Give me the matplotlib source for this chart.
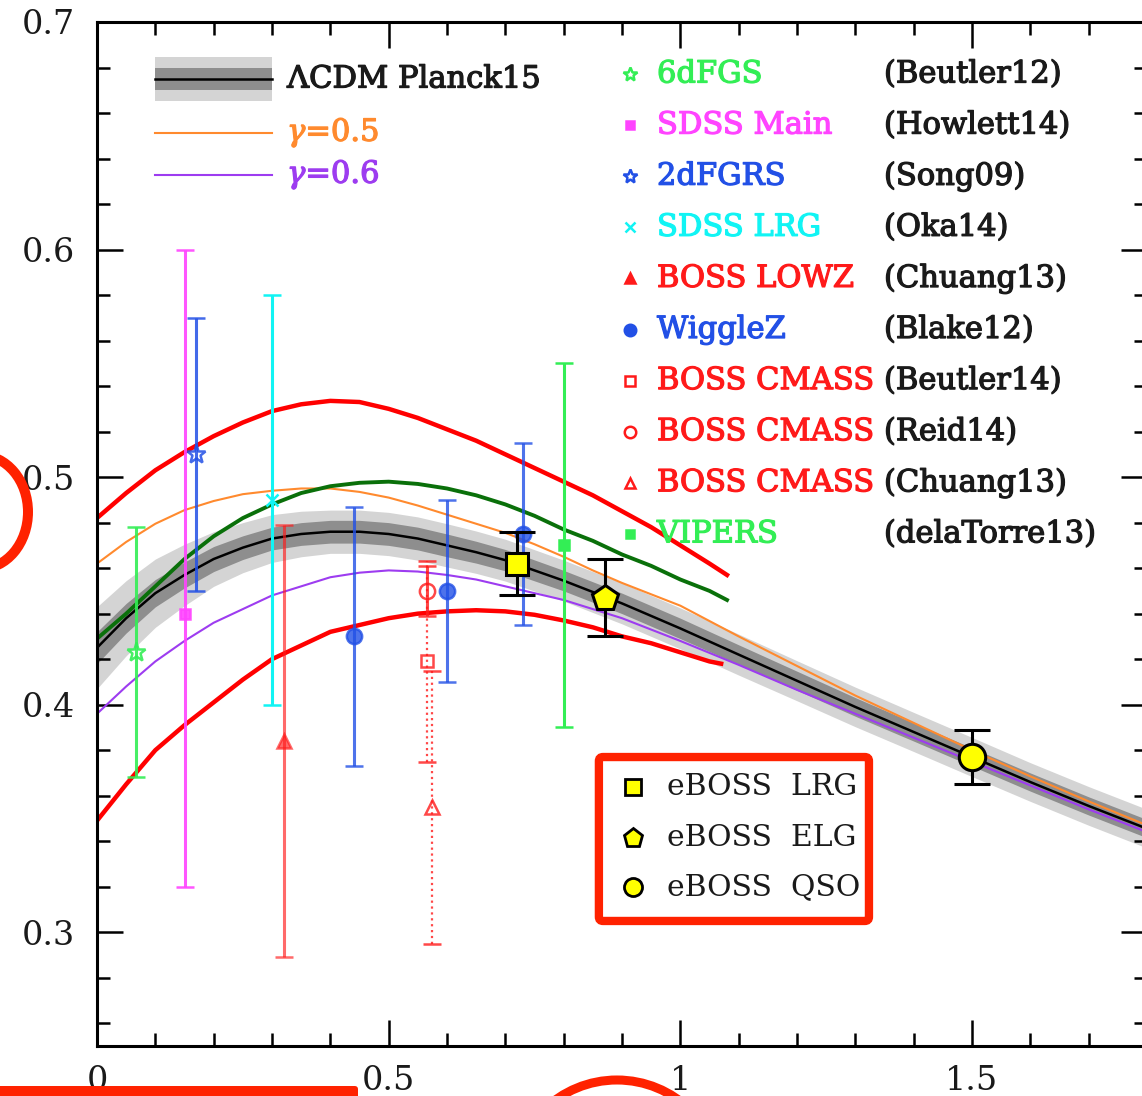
import numpy as np
import matplotlib.pyplot as plt
import matplotlib.patheffects as pe
from matplotlib import patches
from matplotlib.ticker import FixedLocator, FixedFormatter, MultipleLocator

plt.rcParams['font.family'] = ['DejaVu Serif']
plt.rcParams['mathtext.fontset'] = 'dejavuserif'

## model curves, f*sigma8 against redshift

z_model = [0.0, 0.05, 0.1, 0.15, 0.2, 0.25, 0.3, 0.35, 0.4, 0.45, 0.5,
           0.55, 0.6, 0.65, 0.7, 0.75, 0.8, 0.85, 0.9, 0.95, 1.0,
           1.1, 1.2, 1.3, 1.4, 1.5, 1.6, 1.7, 1.8]
fs8_lcdm = [0.425, 0.438, 0.449, 0.457, 0.464, 0.469, 0.473, 0.475, 0.476, 0.476, 0.475,
            0.473, 0.470, 0.467, 0.4635, 0.459, 0.4545, 0.4495, 0.4445, 0.439, 0.4335,
            0.422, 0.4105, 0.399, 0.388, 0.377, 0.366, 0.3555, 0.3455]
# 1 and 2 sigma half widths of the Planck15 band
sig1_lcdm = [0.007, 0.0065, 0.006, 0.0057, 0.0055, 0.0052, 0.005, 0.005, 0.005, 0.005, 0.005,
             0.005, 0.005, 0.0048, 0.0047, 0.0046, 0.0045, 0.0045, 0.0045, 0.0045, 0.0045,
             0.0043, 0.0042, 0.0041, 0.004, 0.004, 0.004, 0.004, 0.004]
sig2_lcdm = [0.018, 0.0165, 0.015, 0.0135, 0.012, 0.011, 0.0105, 0.010, 0.0095, 0.0095, 0.0095,
             0.0095, 0.0095, 0.0093, 0.0092, 0.0091, 0.009, 0.009, 0.009, 0.009, 0.009,
             0.009, 0.0088, 0.0087, 0.0086, 0.0086, 0.0085, 0.0085, 0.0085]
fs8_gamma05 = [0.462, 0.4715, 0.4795, 0.4855, 0.4895, 0.4925, 0.494, 0.495, 0.495, 0.4935, 0.491,
               0.4875, 0.4835, 0.4795, 0.4755, 0.4705, 0.465, 0.459, 0.4535, 0.4485, 0.4435,
               0.430, 0.417, 0.404, 0.392, 0.380, 0.3685, 0.3575, 0.347]
fs8_gamma06 = [0.396, 0.408, 0.419, 0.428, 0.436, 0.442, 0.448, 0.452, 0.456, 0.458, 0.459,
               0.4585, 0.457, 0.455, 0.452, 0.449, 0.446, 0.442, 0.438, 0.433, 0.428,
               0.4175, 0.4065, 0.396, 0.3855, 0.375, 0.3645, 0.354, 0.344]

# thick curves that stop near z=1
z_upper = [0.0, 0.05, 0.1, 0.15, 0.2, 0.25, 0.3, 0.35, 0.4, 0.45, 0.5, 0.55,
           0.6, 0.65, 0.7, 0.75, 0.8, 0.85, 0.9, 0.95, 1.0, 1.05, 1.08]
fs8_red_upper = [0.482, 0.493, 0.503, 0.511, 0.518, 0.524, 0.529, 0.532, 0.5335, 0.533, 0.530, 0.526,
                 0.521, 0.516, 0.510, 0.504, 0.498, 0.492, 0.485, 0.478, 0.470, 0.462, 0.457]
fs8_green = [0.429, 0.440, 0.452, 0.464, 0.474, 0.482, 0.488, 0.493, 0.496, 0.4975, 0.498, 0.497,
             0.495, 0.492, 0.488, 0.483, 0.477, 0.472, 0.466, 0.461, 0.455, 0.450, 0.446]
z_lower = [0.0, 0.05, 0.1, 0.15, 0.2, 0.25, 0.3, 0.35, 0.4, 0.45, 0.5, 0.55,
           0.6, 0.65, 0.7, 0.75, 0.8, 0.85, 0.9, 0.95, 1.0, 1.05, 1.07]
fs8_red_lower = [0.349, 0.365, 0.380, 0.391, 0.401, 0.411, 0.420, 0.426, 0.432, 0.435, 0.438, 0.440,
                 0.441, 0.4415, 0.441, 0.4395, 0.437, 0.434, 0.430, 0.427, 0.423, 0.419, 0.418]

## measurements

z_6df, fs8_6df, err_6df = [0.067], [0.423], [0.055]
z_main, fs8_main, err_main = [0.15], [0.44], [[0.12], [0.16]]
z_2df, fs8_2df, err_2df = [0.17], [0.51], [0.06]
z_lrg, fs8_lrg, err_lrg = [0.30], [0.49], [0.09]
z_lowz, fs8_lowz, err_lowz = [0.32], [0.384], [0.095]
z_wigglez = [0.44, 0.60, 0.73]
fs8_wigglez = [0.43, 0.45, 0.475]
err_wigglez = [0.057, 0.040, 0.040]
z_cmass_b14, fs8_cmass_b14, err_cmass_b14 = [0.565], [0.419], [0.044]
z_cmass_r14, fs8_cmass_r14, err_cmass_r14 = [0.565], [0.450], [0.011]
z_cmass_c13, fs8_cmass_c13, err_cmass_c13 = [0.575], [0.355], [0.06]
z_vipers, fs8_vipers, err_vipers = [0.80], [0.47], [0.08]

# eBOSS forecasts
z_eboss_lrg, fs8_eboss_lrg, err_eboss_lrg = [0.72], [0.462], [0.014]
z_eboss_elg, fs8_eboss_elg, err_eboss_elg = [0.87], [0.447], [0.017]
z_eboss_qso, fs8_eboss_qso, err_eboss_qso = [1.5], [0.377], [0.012]

survey_names = ['6dFGS', 'SDSS Main', '2dFGRS', 'SDSS LRG', 'BOSS LOWZ',
                'WiggleZ', 'BOSS CMASS', 'BOSS CMASS', 'BOSS CMASS', 'VIPERS']
survey_refs = ['(Beutler12)', '(Howlett14)', '(Song09)', '(Oka14)', '(Chuang13)',
               '(Blake12)', '(Beutler14)', '(Reid14)', '(Chuang13)', '(delaTorre13)']
eboss_names = ['eBOSS  LRG', 'eBOSS  ELG', 'eBOSS  QSO']

GREEN = '#33ee55'
MAGENTA = '#ff44ff'
BLUE = '#2250e6'
CYAN = '#11f4f4'
RED = '#ff1a1a'

# marker style for each survey: marker, size, filled, colour, alpha, dotted bars
styles = [('*', 14, False, GREEN, 0.9, False),
          ('s', 7, True, MAGENTA, 0.9, False),
          ('*', 14, False, BLUE, 0.85, False),
          ('x', 9, True, CYAN, 1.0, False),
          ('^', 10, True, RED, 0.65, False),
          ('o', 11, True, BLUE, 0.8, False),
          ('s', 9, False, RED, 0.8, True),
          ('o', 11, False, RED, 0.8, False),
          ('^', 10, False, RED, 0.8, True),
          ('s', 7, True, GREEN, 1.0, False)]
measurements = [(z_6df, fs8_6df, err_6df), (z_main, fs8_main, err_main),
                (z_2df, fs8_2df, err_2df), (z_lrg, fs8_lrg, err_lrg),
                (z_lowz, fs8_lowz, err_lowz), (z_wigglez, fs8_wigglez, err_wigglez),
                (z_cmass_b14, fs8_cmass_b14, err_cmass_b14),
                (z_cmass_r14, fs8_cmass_r14, err_cmass_r14),
                (z_cmass_c13, fs8_cmass_c13, err_cmass_c13),
                (z_vipers, fs8_vipers, err_vipers)]


def heavy(col):
    # thicken thin serif glyphs a little
    return [pe.withStroke(linewidth=0.9, foreground=col)]


W, H = 1142, 1096
fig = plt.figure(figsize=(W / 100, H / 100), dpi=100)
ax = fig.add_axes([97 / W, 50 / H, 1050 / W, 1024 / H])

lcdm = np.array(fs8_lcdm)
s1 = np.array(sig1_lcdm)
s2 = np.array(sig2_lcdm)
ax.fill_between(z_model, lcdm - s2, lcdm + s2, color='#d4d4d4', lw=0, zorder=1)
ax.fill_between(z_model, lcdm - s1, lcdm + s1, color='#8e8e8e', lw=0, zorder=1.1)
ax.plot(z_model, fs8_lcdm, color='black', lw=1.8, zorder=1.5)
ax.plot(z_model, fs8_gamma05, color='#ff8a2e', lw=1.5, zorder=1.6)
ax.plot(z_model, fs8_gamma06, color='#9d3cf0', lw=1.5, zorder=1.6)

ax.plot(z_upper, fs8_red_upper, color='#ff0000', lw=3.2, zorder=2.5)
ax.plot(z_upper, fs8_green, color='#0a700a', lw=2.8, zorder=2.5)
ax.plot(z_lower, fs8_red_lower, color='#ff0000', lw=3.2, zorder=2.5)

for (z, fs8, err), (mk, ms, filled, col, alpha, dotted) in zip(measurements, styles):
    eb = ax.errorbar(z, fs8, yerr=err, fmt=mk, color=col, ms=ms,
                     mfc=col if filled else 'none', mec=col, mew=1.8,
                     elinewidth=1.6 if dotted else 2.2, capsize=6.5, capthick=2,
                     alpha=alpha, zorder=3)
    if dotted:
        eb[2][0].set_linestyle(':')

# eBOSS points
for z, fs8, err, mk, ms in [(z_eboss_lrg, fs8_eboss_lrg, err_eboss_lrg, 's', 16),
                            (z_eboss_elg, fs8_eboss_elg, err_eboss_elg, 'p', 19),
                            (z_eboss_qso, fs8_eboss_qso, err_eboss_qso, 'o', 19)]:
    ax.errorbar(z, fs8, yerr=err, fmt=mk, color='black', ms=ms, mfc='#ffff00',
                mec='black', mew=2.2, elinewidth=2.2, capsize=13, capthick=2.2,
                zorder=6)

ax.set_xlim(0, 1.8)
ax.set_ylim(0.25, 0.7)
ax.xaxis.set_major_locator(FixedLocator([0, 0.5, 1, 1.5]))
ax.xaxis.set_major_formatter(FixedFormatter(['0', '0.5', '1', '1.5']))
ax.xaxis.set_minor_locator(MultipleLocator(0.1))
ax.yaxis.set_major_locator(FixedLocator([0.3, 0.4, 0.5, 0.6, 0.7]))
ax.yaxis.set_major_formatter(FixedFormatter(['0.3', '0.4', '0.5', '0.6', '0.7']))
ax.yaxis.set_minor_locator(MultipleLocator(0.02))
ax.tick_params(which='both', direction='in', top=True, right=True, width=1.8,
               labelsize=24, labelcolor='#1a1a1a')
ax.tick_params(which='major', length=19)
ax.tick_params(which='minor', length=9.5)
ax.tick_params(axis='y', pad=16)
ax.tick_params(axis='x', pad=14)
for sp in ax.spines.values():
    sp.set_linewidth(2.2)

## legends, drawn in axes fraction

# model curves, top left
x0, x1, xt = 0.0552, 0.1667, 0.181
yl = 0.9443
ax.add_patch(patches.Rectangle((x0, yl - 0.0215), x1 - x0, 0.043, transform=ax.transAxes,
                               color='#d4d4d4', lw=0, zorder=5))
ax.add_patch(patches.Rectangle((x0, yl - 0.0107), x1 - x0, 0.0214, transform=ax.transAxes,
                               color='#8e8e8e', lw=0, zorder=5))
ax.plot([x0, x1], [yl, yl], color='black', lw=1.8, transform=ax.transAxes, zorder=5)
ax.text(xt, yl, 'ΛCDM Planck15', transform=ax.transAxes, va='center', fontsize=22,
        color='#1a1a1a', path_effects=heavy('#1a1a1a'))
for y, col, lab in [(0.8916, '#ff8a2e', r'$\gamma$=0.5'), (0.8506, '#9d3cf0', r'$\gamma$=0.6')]:
    ax.plot([x0, x1], [y, y], color=col, lw=1.5, transform=ax.transAxes)
    ax.text(xt, y, lab, transform=ax.transAxes, va='center', fontsize=22, color=col,
            path_effects=heavy(col))

# surveys, top right
for i, (name, ref, st) in enumerate(zip(survey_names, survey_refs, styles)):
    mk, ms, filled, col, alpha, dotted = st
    y = 0.9492 - i * 0.0499
    ax.plot(0.5076, y, marker=mk, ms=ms * 0.75, color=col,
            mfc=col if filled else 'none', mec=col, mew=1.8,
            transform=ax.transAxes, clip_on=False)
    ax.text(0.5333, y, name, transform=ax.transAxes, va='center', fontsize=22,
            color=col, path_effects=heavy(col))
    ax.text(0.7495, y, ref, transform=ax.transAxes, va='center', fontsize=22,
            color='#1a1a1a', path_effects=heavy('#1a1a1a'))

# eBOSS box
ax.add_patch(patches.FancyBboxPatch((0.478, 0.1221), 0.2572, 0.1601,
                                    boxstyle='round,pad=0,rounding_size=0.004',
                                    transform=ax.transAxes, facecolor='white',
                                    edgecolor='#ff2200', lw=6, zorder=7))
for y, mk, ms, name in zip([0.2529, 0.2031, 0.1553], ['s', 'p', 'o'], [12, 14, 13],
                           eboss_names):
    ax.plot(0.5105, y, marker=mk, ms=ms, mfc='#ffff00', mec='black', mew=2,
            transform=ax.transAxes, zorder=8)
    ax.text(0.5429, y, name, transform=ax.transAxes, va='center', fontsize=21.5,
            color='#1a1a1a', zorder=8)

## red marks drawn over the figure, in pixels


def fx(px):
    return px / W


def fy(py):
    return 1 - py / H


fig.add_artist(patches.Ellipse((fx(-20), fy(512)), 96 / W, 114 / H,
                               transform=fig.transFigure, fill=False,
                               ec='#ff2200', lw=7.2))
fig.add_artist(patches.Ellipse((fx(617), fy(1185)), 210 / W, 210 / H,
                               transform=fig.transFigure, fill=False,
                               ec='#ff2200', lw=6.5))
fig.add_artist(patches.FancyBboxPatch((fx(-10), fy(1110)), 368 / W, 24 / H,
                                      boxstyle='round,pad=0,rounding_size=0.003',
                                      transform=fig.transFigure,
                                      facecolor='#ff2200', lw=0))

fig.savefig('out.png', dpi=100)
